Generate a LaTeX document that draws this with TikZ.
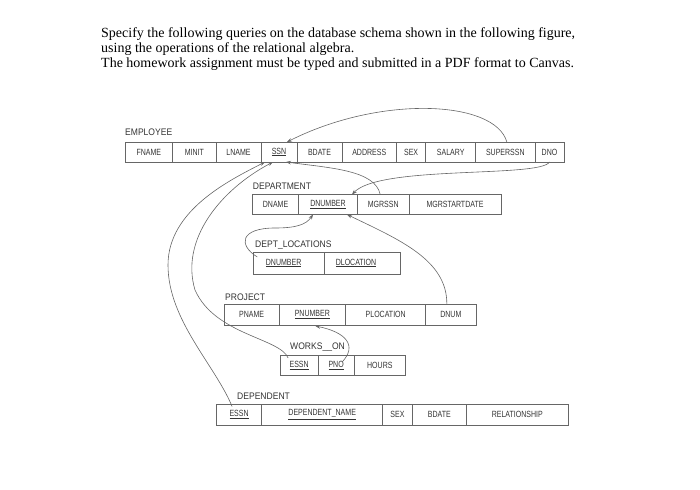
\documentclass[tikz,border=0pt]{standalone}
\usepackage{fontspec}
\setmainfont{Liberation Serif}
\newfontfamily\cellfont[FakeStretch=0.78]{Liberation Sans}
\newfontfamily\tabfont[FakeStretch=0.9]{Liberation Sans}
\usetikzlibrary{arrows.meta,calc}
\definecolor{ink}{HTML}{333333}
\definecolor{rulec}{HTML}{666666}
\begin{document}
\begin{tikzpicture}[x=1pt,y=-1pt,
  cell/.style={draw=rulec, line width=0.6pt, anchor=north west, inner sep=0pt, outer sep=0pt, text=ink, font=\cellfont\fontsize{9}{10}\selectfont},
  tname/.style={anchor=west, inner sep=0pt, text=ink, font=\tabfont\fontsize{9.5}{10}\selectfont},
  fk/.style={draw=rulec, line width=0.6pt, -{Stealth[length=5pt,width=3.6pt]}},
  hdr/.style={anchor=base west, inner sep=0pt, font=\fontsize{14}{15}\selectfont}]
\useasboundingbox (0,0) rectangle (700,489);

% header text
\node[hdr] (l1) at (101,37.5) {Specify the following queries on the database schema shown in the following figure,};
\node[hdr] (l2) at (101,52.5) {using the operations of the relational algebra.};
\node[hdr] (l3) at (101,67.5) {The homework assignment must be typed and submitted in a PDF format to Canvas.};

% EMPLOYEE
\node[tname] (temp) at (125,132.7) {EMPLOYEE};
\begin{scope}[every node/.append style={minimum height=20pt}]
\node[cell, minimum width=47.7pt] (fname) at (125,142) {FNAME};
\node[cell, minimum width=43.3pt] (minit) at (fname.north east) {MINIT};
\node[cell, minimum width=45pt] (lname) at (minit.north east) {LNAME};
\node[cell, minimum width=36pt] (ssn) at (lname.north east) {\underline{SSN}};
\node[cell, minimum width=45pt] (bdate) at (ssn.north east) {BDATE};
\node[cell, minimum width=54.5pt] (address) at (bdate.north east) {ADDRESS};
\node[cell, minimum width=29.2pt] (sex) at (address.north east) {SEX};
\node[cell, minimum width=50pt] (salary) at (sex.north east) {SALARY};
\node[cell, minimum width=59.3pt] (superssn) at (salary.north east) {SUPERSSN};
\node[cell, minimum width=29pt] (dno) at (superssn.north east) {DNO};
\end{scope}

% DEPARTMENT
\node[tname] (tdep) at (252.7,186.7) {DEPARTMENT};
\begin{scope}[every node/.append style={minimum height=20pt}]
\node[cell, minimum width=45.8pt] (dname) at (252.7,194.5) {DNAME};
\node[cell, minimum width=59pt] (dnumber) at (dname.north east) {\underline{DNUMBER}};
\node[cell, minimum width=51.5pt] (mgrssn) at (dnumber.north east) {MGRSSN};
\node[cell, minimum width=92pt] (mgrstart) at (mgrssn.north east) {MGRSTARTDATE};
\end{scope}

% DEPT_LOCATIONS
\node[tname] (tdloc) at (255,245) {DEPT\_LOCATIONS};
\begin{scope}[every node/.append style={minimum height=22pt}]
\node[cell, minimum width=70.7pt] (dlnumber) at (253.3,252) {\hspace*{-10pt}\underline{DNUMBER}};
\node[cell, minimum width=76pt] (dlocation) at (dlnumber.north east) {\hspace*{-12pt}\underline{DLOCATION}};
\end{scope}

% PROJECT
\node[tname] (tproj) at (225,297.7) {PROJECT};
\begin{scope}[every node/.append style={minimum height=21pt}]
\node[cell, minimum width=54.7pt] (pname) at (224.3,304) {PNAME};
\node[cell, minimum width=66.7pt] (pnumber) at (pname.north east) {\underline{PNUMBER}};
\node[cell, minimum width=80pt] (plocation) at (pnumber.north east) {PLOCATION};
\node[cell, minimum width=50.3pt] (pdnum) at (plocation.north east) {DNUM};
\end{scope}

% WORKS_ON
\node[tname] (twork) at (290,347) {WORKS\_\_ON};
\begin{scope}[every node/.append style={minimum height=20.5pt}]
\node[cell, minimum width=38.3pt] (wessn) at (280,355) {\underline{ESSN}};
\node[cell, minimum width=35.7pt] (pno) at (wessn.north east) {\underline{PNO}};
\node[cell, minimum width=51.7pt] (hours) at (pno.north east) {HOURS};
\end{scope}

% DEPENDENT
\node[tname] (tdept) at (237,396.7) {DEPENDENT};
\begin{scope}[every node/.append style={minimum height=20.5pt}]
\node[cell, minimum width=45.2pt] (dessn) at (216.5,404.5) {\underline{ESSN}};
\node[cell, minimum width=121pt] (depname) at (dessn.north east) {\underline{DEPENDENT\_NAME}};
\node[cell, minimum width=29.6pt] (dsex) at (depname.north east) {SEX};
\node[cell, minimum width=54.2pt] (dbdate) at (dsex.north east) {BDATE};
\node[cell, minimum width=101.5pt] (relation) at (dbdate.north east) {RELATIONSHIP};
\end{scope}

% connectors
\draw[fk] ($(superssn.north)+(1.5,0)$) .. controls (495,100) and (380,95) .. ($(ssn.north)+(8,0)$);
\draw[fk] (dno.south) .. controls (540,178) and (380,165) .. ($(dnumber.north)+(24,0)$);
\draw[fk] ($(mgrssn.north)+(-3,0)$) .. controls (375,170) and (330,168) .. ($(ssn.south)+(7,0)$);
\draw[fk] ($(dlnumber.west)+(4,-6)$) .. controls (238,245) and (240,228) .. (275,228) .. controls (295,228) and (306,225) .. ($(dnumber.south)+(-15,0)$);
\draw[fk] ($(pdnum.north)+(-4,0)$) .. controls (447,260) and (400,240) .. ($(dnumber.south)+(19,0)$);
\draw[fk] ($(dessn.north)+(-7,2)$) .. controls (215,365) and (168,320) .. (168,265) .. controls (168,210) and (230,180) .. ($(ssn.south)+(-14,0)$);
\draw[fk] ($(wessn.north)+(-11,3)$) .. controls (280,338) and (215,335) .. (195,290) .. controls (180,240) and (220,190) .. ($(ssn.south)+(-6,0)$);
\draw[fk] ($(pno.north)+(6,7)$) .. controls (358,345) and (345,332) .. ($(pnumber.south)+(3,1)$);
\end{tikzpicture}
\end{document}
